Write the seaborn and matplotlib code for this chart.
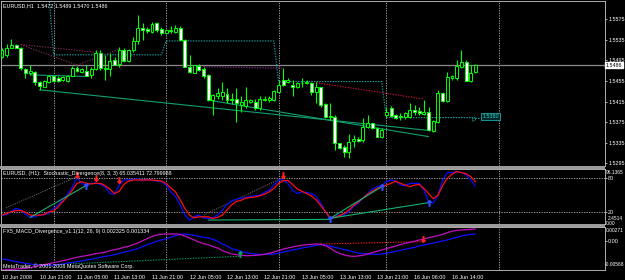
import matplotlib
matplotlib.use("Agg")
import matplotlib.pyplot as plt
from matplotlib.patches import Rectangle
import numpy as np
import pandas as pd
import seaborn as sns

W, H = 625, 280

# ---------------- data ----------------
time_labels = ["10 Jun 2008", "10 Jun 21:00", "11 Jun 05:00", "11 Jun 13:00", "11 Jun 21:00",
               "12 Jun 05:00", "12 Jun 13:00", "12 Jun 21:00", "13 Jun 05:00", "13 Jun 13:00",
               "13 Jun 21:00", "16 Jun 06:00", "16 Jun 14:00"]
time_label_bars = [0, 8, 16, 24, 32, 40, 48, 56, 64, 72, 80, 88, 96]
day_separator_bars = [11, 35, 59, 82, 106]

open_ = [1.5502, 1.5506, 1.5520, 1.5526, 1.5520, 1.5478, 1.5471, 1.5473, 1.5454, 1.5444,
         1.5454, 1.5465, 1.5460, 1.5457, 1.5455, 1.5465, 1.5480, 1.5473, 1.5475, 1.5467,
         1.5478, 1.5510, 1.5481, 1.5478, 1.5495, 1.5488, 1.5515, 1.5494, 1.5515, 1.5532,
         1.5558, 1.5556, 1.5551, 1.5567, 1.5557, 1.5548, 1.5554, 1.5550, 1.5559, 1.5535,
         1.5483, 1.5471, 1.5485, 1.5478, 1.5467, 1.5418, 1.5426, 1.5425, 1.5430, 1.5421,
         1.5421, 1.5408, 1.5406, 1.5415, 1.5415, 1.5402, 1.5421, 1.5419, 1.5418, 1.5434,
         1.5457, 1.5454, 1.5447, 1.5443, 1.5451, 1.5451, 1.5451, 1.5434, 1.5443, 1.5410,
         1.5388, 1.5386, 1.5334, 1.5327, 1.5318, 1.5339, 1.5342, 1.5340, 1.5365, 1.5373,
         1.5363, 1.5347, 1.5389, 1.5402, 1.5389, 1.5388, 1.5386, 1.5386, 1.5399, 1.5397,
         1.5391, 1.5395, 1.5358, 1.5376, 1.5432, 1.5417, 1.5460, 1.5460, 1.5483, 1.5493,
         1.5456, 1.5472]
high = [1.5519, 1.5528, 1.5536, 1.5528, 1.5522, 1.5480, 1.5486, 1.5475, 1.5455, 1.5457,
        1.5467, 1.5467, 1.5464, 1.5464, 1.5467, 1.5484, 1.5484, 1.5480, 1.5486, 1.5483,
        1.5515, 1.5515, 1.5506, 1.5509, 1.5502, 1.5522, 1.5519, 1.5517, 1.5541, 1.5583,
        1.5567, 1.5561, 1.5570, 1.5570, 1.5561, 1.5556, 1.5562, 1.5564, 1.5562, 1.5536,
        1.5506, 1.5487, 1.5489, 1.5483, 1.5469, 1.5430, 1.5441, 1.5454, 1.5441, 1.5431,
        1.5441, 1.5425, 1.5444, 1.5421, 1.5421, 1.5425, 1.5425, 1.5426, 1.5438, 1.5457,
        1.5480, 1.5460, 1.5457, 1.5454, 1.5460, 1.5458, 1.5454, 1.5454, 1.5444, 1.5412,
        1.5412, 1.5389, 1.5335, 1.5331, 1.5353, 1.5350, 1.5347, 1.5383, 1.5389, 1.5374,
        1.5366, 1.5363, 1.5405, 1.5406, 1.5390, 1.5392, 1.5395, 1.5412, 1.5408, 1.5405,
        1.5418, 1.5405, 1.5379, 1.5438, 1.5434, 1.5473, 1.5467, 1.5496, 1.5515, 1.5496,
        1.5486, 1.5489]
low = [1.5499, 1.5502, 1.5519, 1.5519, 1.5477, 1.5460, 1.5467, 1.5447, 1.5438, 1.5443,
       1.5452, 1.5454, 1.5454, 1.5455, 1.5454, 1.5464, 1.5473, 1.5471, 1.5464, 1.5460,
       1.5477, 1.5477, 1.5457, 1.5464, 1.5486, 1.5483, 1.5493, 1.5493, 1.5512, 1.5528,
       1.5535, 1.5548, 1.5548, 1.5551, 1.5545, 1.5547, 1.5548, 1.5548, 1.5534, 1.5482,
       1.5471, 1.5470, 1.5475, 1.5460, 1.5417, 1.5389, 1.5421, 1.5418, 1.5412, 1.5410,
       1.5376, 1.5395, 1.5402, 1.5413, 1.5399, 1.5399, 1.5417, 1.5415, 1.5417, 1.5431,
       1.5445, 1.5451, 1.5425, 1.5441, 1.5443, 1.5449, 1.5428, 1.5412, 1.5405, 1.5384,
       1.5379, 1.5321, 1.5322, 1.5308, 1.5305, 1.5327, 1.5337, 1.5337, 1.5363, 1.5362,
       1.5346, 1.5344, 1.5386, 1.5386, 1.5381, 1.5379, 1.5381, 1.5384, 1.5389, 1.5389,
       1.5389, 1.5358, 1.5356, 1.5374, 1.5415, 1.5415, 1.5457, 1.5458, 1.5480, 1.5455,
       1.5454, 1.5470]
close = [1.5515, 1.5519, 1.5526, 1.5520, 1.5480, 1.5470, 1.5475, 1.5454, 1.5445, 1.5455,
         1.5465, 1.5455, 1.5455, 1.5462, 1.5465, 1.5480, 1.5475, 1.5478, 1.5465, 1.5479,
         1.5509, 1.5480, 1.5478, 1.5494, 1.5487, 1.5515, 1.5494, 1.5515, 1.5533, 1.5559,
         1.5554, 1.5553, 1.5566, 1.5554, 1.5548, 1.5554, 1.5553, 1.5559, 1.5535, 1.5483,
         1.5473, 1.5486, 1.5477, 1.5465, 1.5418, 1.5428, 1.5431, 1.5434, 1.5419, 1.5418,
         1.5412, 1.5415, 1.5418, 1.5419, 1.5402, 1.5421, 1.5419, 1.5423, 1.5436, 1.5447,
         1.5447, 1.5457, 1.5443, 1.5451, 1.5452, 1.5454, 1.5434, 1.5443, 1.5408, 1.5386,
         1.5386, 1.5335, 1.5324, 1.5318, 1.5337, 1.5342, 1.5339, 1.5365, 1.5373, 1.5363,
         1.5347, 1.5360, 1.5395, 1.5388, 1.5383, 1.5386, 1.5392, 1.5399, 1.5395, 1.5392,
         1.5394, 1.5360, 1.5377, 1.5431, 1.5417, 1.5462, 1.5464, 1.5484, 1.5493, 1.5456,
         1.5470, 1.5486]

stoch_main = [14, 15, 21, 26, 23, 15, 10, 11, 14, 15,
              17, 26, 32, 41, 51, 64, 80, 70, 66, 70,
              71, 68, 64, 52, 51, 67, 76, 76, 77, 78,
              76, 77, 76, 74, 73, 67, 55, 47, 32, 14,
              5, 11, 14, 9, 8, 9, 14, 23, 33, 39,
              42, 44, 45, 47, 48, 49, 54, 58, 67, 76,
              76, 70, 58, 52, 55, 54, 52, 47, 35, 20,
              5, 11, 14, 14, 20, 29, 35, 44, 52, 60,
              64, 66, 73, 76, 74, 67, 66, 70, 70, 70,
              58, 38, 35, 49, 76, 89, 89, 91, 89, 85,
              76, 65.04]
stoch_signal = [14, 17, 20, 22, 22, 19, 14, 14, 14, 15,
                20, 21, 29, 38, 47, 58, 70, 73, 70, 69,
                70, 70, 66, 60, 52, 56, 68, 74, 76, 76,
                76, 76, 76, 75, 74, 70, 62, 55, 41, 26,
                14, 9, 11, 11, 11, 8, 10, 14, 23, 32,
                38, 40, 44, 45, 46, 48, 51, 55, 61, 70,
                75, 75, 68, 60, 56, 52, 48, 41, 31, 20,
                9, 10, 13, 17, 23, 31, 37, 44, 51, 56,
                61, 64, 67, 70, 74, 70, 67, 64, 67, 68,
                61, 52, 43, 49, 66, 79, 86, 91, 89, 87,
                82, 72.80]

macd_main = [-0.00567, -0.00561, -0.00554, -0.00548, -0.00541, -0.00535, -0.00522, -0.00502, -0.00483, -0.00463,
             -0.00444, -0.00424, -0.00405, -0.00385, -0.00366, -0.00340, -0.00320, -0.00301, -0.00288, -0.00268,
             -0.00249, -0.00236, -0.00223, -0.00190, -0.00171, -0.00151, -0.00125, -0.00106, -0.00073, -0.00041,
             0.00005, 0.00044, 0.00089, 0.00115, 0.00128, 0.00135, 0.00135, 0.00135, 0.00128, 0.00096,
             0.00057, 0.00018, -0.00021, -0.00054, -0.00073, -0.00112, -0.00138, -0.00190, -0.00223, -0.00255,
             -0.00268, -0.00281, -0.00288, -0.00288, -0.00281, -0.00275, -0.00262, -0.00242, -0.00216, -0.00190,
             -0.00158, -0.00138, -0.00119, -0.00099, -0.00086, -0.00073, -0.00067, -0.00060, -0.00067, -0.00093,
             -0.00138, -0.00203, -0.00242, -0.00275, -0.00294, -0.00301, -0.00294, -0.00281, -0.00255, -0.00229,
             -0.00203, -0.00177, -0.00151, -0.00125, -0.00099, -0.00073, -0.00047, -0.00028, -0.00008, 0.00018,
             0.00037, 0.00063, 0.00083, 0.00102, 0.00128, 0.00161, 0.00187, 0.00206, 0.00213, 0.00219,
             0.00226, 0.002325]
macd_signal = [-0.00353, -0.00366, -0.00385, -0.00405, -0.00418, -0.00437, -0.00450, -0.00463, -0.00470, -0.00476,
               -0.00476, -0.00470, -0.00463, -0.00450, -0.00431, -0.00418, -0.00405, -0.00392, -0.00372, -0.00359,
               -0.00340, -0.00320, -0.00301, -0.00288, -0.00268, -0.00242, -0.00223, -0.00197, -0.00177, -0.00145,
               -0.00112, -0.00073, -0.00041, -0.00008, 0.00018, 0.00044, 0.00070, 0.00102, 0.00128, 0.00135,
               0.00122, 0.00109, 0.00089, 0.00070, 0.00057, 0.00031, -0.00008, -0.00060, -0.00099, -0.00151,
               -0.00177, -0.00203, -0.00229, -0.00242, -0.00255, -0.00262, -0.00262, -0.00262, -0.00255, -0.00242,
               -0.00216, -0.00197, -0.00177, -0.00158, -0.00138, -0.00125, -0.00106, -0.00086, -0.00073, -0.00080,
               -0.00099, -0.00125, -0.00145, -0.00171, -0.00190, -0.00216, -0.00236, -0.00249, -0.00255, -0.00262,
               -0.00262, -0.00255, -0.00242, -0.00223, -0.00203, -0.00184, -0.00164, -0.00145, -0.00125, -0.00099,
               -0.00080, -0.00060, -0.00041, -0.00021, -0.00002, 0.00018, 0.00044, 0.00070, 0.00096, 0.00115,
               0.00128, 0.001334]

pivot_levels = [1.5625, 1.5506, 1.5533, 1.5454, 1.5384]
pivot_day_start = [0, 11, 35, 59, 82]
pivot_label = "1.5380"
price_ticks = [1.5295, 1.5335, 1.5375, 1.5415, 1.5455, 1.5495, 1.5535, 1.5575]
last_price = 1.5486

# ---------------- style ----------------
sns.set_theme(style="dark", rc={"axes.facecolor": "black", "figure.facecolor": "black",
                                "savefig.facecolor": "black", "axes.grid": False})
plt.rcParams["font.family"] = ["Liberation Sans", "DejaVu Sans"]
FS = 3.9
FS_R = 3.5
GREEN = "#00ff00"
SEP = "#b4b4b4"
TXT = "white"

fig = plt.figure(figsize=(6.25, 2.8), dpi=100)


def px_rect(x0, y0, x1, y1):
    return [x0 / W, 1 - y1 / H, (x1 - x0) / W, (y1 - y0) / H]


def fx(x):
    return x / W


def fy(y):
    return 1 - y / H


ax_p = fig.add_axes(px_rect(1, 1, 605, 166))
ax_s = fig.add_axes(px_rect(1, 169, 605, 224))
ax_m = fig.add_axes(px_rect(1, 227, 605, 270))

# panel separators
for y0 in (166, 224):
    fig.patches.append(Rectangle((0, fy(y0 + 3)), fx(605), 3 / H, transform=fig.transFigure,
                                 facecolor="#9a9a9a", edgecolor="none", zorder=0))

n = len(close)
bars = np.arange(n)
XL = ((1 - 2) / 4.6875, (605 - 2) / 4.6875)

for ax in (ax_p, ax_s, ax_m):
    ax.set_facecolor("black")
    ax.set_xlim(*XL)
    for sp in ax.spines.values():
        sp.set_color("#c8c8c8")
        sp.set_linewidth(0.6)
    for b in day_separator_bars:
        ax.axvline(b, color=SEP, lw=0.6, ls=(0, (1.5, 1.5)), zorder=1)

# ---------------- price panel ----------------
ax_p.set_ylim(1.528987, 1.561063)
ax_p.axhline(last_price, color="#8a8a8a", lw=0.9, zorder=1)

# pivot step line
pivot_series = np.empty(n)
for k, start in enumerate(pivot_day_start):
    pivot_series[start:] = pivot_levels[k]
piv_col = "#16a6a6"
ax_p.plot(bars, pivot_series, color=piv_col, lw=0.8, ls=(0, (1.2, 1.2)), zorder=2)
ax_p.plot([bars[-1], 102.3], [pivot_levels[-1]] * 2, color=piv_col, lw=0.8, ls=(0, (1.2, 1.2)), zorder=2)

# divergence / trend lines
tl = "#12a070"
ax_p.plot([8, 91], [1.5438, 1.5359], color=tl, lw=0.8, zorder=2)
ax_p.plot([44, 91], [1.5418, 1.5347], color=tl, lw=0.8, zorder=2)
ax_p.plot([6, 17.7], [1.5467, 1.5464], color=tl, lw=0.8, zorder=2)
dd = "#7a2c52"
ax_p.plot([4, 20], [1.5526, 1.5511], color=dd, lw=0.8, ls=(0, (1.2, 1.2)), zorder=2)
ax_p.plot([4, 16], [1.5526, 1.5486], color=dd, lw=0.8, ls=(0, (1.2, 1.2)), zorder=2)
ax_p.plot([16, 25], [1.5486, 1.5517], color=dd, lw=0.8, ls=(0, (1.2, 1.2)), zorder=2)
ax_p.plot([43, 60], [1.5483, 1.5480], color="#8a2a8a", lw=0.8, ls=(0, (1.2, 1.2)), zorder=2)
ax_p.plot([67, 90], [1.5452, 1.5420], color="#c81040", lw=0.8, ls=(0, (1.2, 1.2)), zorder=2)

# candles
o = np.array(open_); c = np.array(close); h = np.array(high); l = np.array(low)
ax_p.vlines(bars, l, h, color=GREEN, lw=0.8, zorder=3)
bull = c >= o
body_bot = np.minimum(o, c)
body_h = np.maximum(np.abs(c - o), 0.00004)
ax_p.bar(bars[bull], body_h[bull], bottom=body_bot[bull], width=0.62, color="black",
         edgecolor=GREEN, linewidth=0.7, zorder=4)
ax_p.bar(bars[~bull], body_h[~bull], bottom=body_bot[~bull], width=0.62, color="white",
         edgecolor=GREEN, linewidth=0.7, zorder=4)

ax_p.yaxis.tick_right()
ax_p.set_yticks(price_ticks)
ax_p.set_yticklabels([f"{v:.4f}" for v in price_ticks])
ax_p.tick_params(axis="y", length=1.5, width=0.6, color="#c8c8c8", labelsize=FS, labelcolor=TXT, pad=0.8)
ax_p.set_xticks([])

# ---------------- stochastic panel ----------------
ax_s.set_ylim(-1.7, 95.35)
for lev in (80, 20):
    ax_s.axhline(lev, color=SEP, lw=0.6, ls=(0, (1.5, 1.5)), zorder=1)
df_s = pd.DataFrame({"bar": bars, "main": stoch_main, "signal": stoch_signal})
sns.lineplot(data=df_s, x="bar", y="main", ax=ax_s, color="#0a0aff", lw=0.9, legend=False, zorder=3)
sns.lineplot(data=df_s, x="bar", y="signal", ax=ax_s, color="#ff1010", lw=0.9, legend=False, zorder=4)
sg = "#18b070"
ax_s.plot([6, 17.9], [10, 66], color=sg, lw=0.8, zorder=5)
ax_s.plot([44, 70], [5.3, 6.5], color=sg, lw=0.8, zorder=5)
ax_s.plot([70, 81], [8.3, 64], color=sg, lw=0.8, zorder=5)
ax_s.plot([70, 91], [8.3, 36], color=sg, lw=0.8, zorder=5)
ax_s.plot([0.9, 16], [27, 82], color="#6a6a6a", lw=0.7, ls=(0, (1.2, 1.2)), zorder=2)
ax_s.plot([43, 59.6], [14, 79], color="#6a6a6a", lw=0.7, ls=(0, (1.2, 1.2)), zorder=2)
down_x = [16, 20, 25, 60]
down_y = [84, 80, 76, 84]
up_x = [17.9, 70, 81, 91]
up_y = [66, 7, 64, 36]
ax_s.plot(down_x, down_y, ls="none", marker="$\u2193$", ms=4, color="#ff2020", zorder=6)
ax_s.plot(up_x, up_y, ls="none", marker="$\u2191$", ms=4, color="#3050ff", zorder=6)
ax_s.set_xlabel(""); ax_s.set_ylabel("")
ax_s.yaxis.tick_right()
ax_s.set_yticks([80, 20])
ax_s.set_yticklabels(["80", "20"])
ax_s.tick_params(axis="y", length=1.5, width=0.6, color="#c8c8c8", labelsize=FS, labelcolor=TXT, pad=0.8)
ax_s.set_xticks([])

# ---------------- MACD panel ----------------
ax_m.set_ylim(-0.005673, 0.002712)
df_m = pd.DataFrame({"bar": bars, "macd": macd_main, "signal": macd_signal})
sns.lineplot(data=df_m, x="bar", y="signal", ax=ax_m, color="#1010ff", lw=0.9, legend=False, zorder=3)
sns.lineplot(data=df_m, x="bar", y="macd", ax=ax_m, color="#c010c0", lw=0.9, legend=False, zorder=4)
ax_m.plot([14, 50.7], [-0.0045, -0.0030], color="#00a060", lw=0.8, ls=(0, (1.2, 1.2)), zorder=2)
ax_m.plot([68, 89.8], [-0.0006, -0.00015], color="#ff1010", lw=0.8, ls=(0, (1.2, 1.2)), zorder=2)
ax_m.plot([89.8], [0.00045], ls="none", marker="$\u2193$", ms=4, color="#ff2020", zorder=6)
ax_m.plot([50.7], [-0.0026], ls="none", marker="$\u2191$", ms=4, color="#00a060", zorder=6)
ax_m.set_xlabel(""); ax_m.set_ylabel("")
ax_m.yaxis.tick_right()
ax_m.set_yticks([0.0])
ax_m.set_yticklabels(["0.00"])
ax_m.tick_params(axis="y", length=1.5, width=0.6, color="#c8c8c8", labelsize=FS, labelcolor=TXT, pad=0.8)
ax_m.set_xticks(time_label_bars)
ax_m.set_xticklabels(time_labels)
ax_m.tick_params(axis="x", length=2.5, width=0.6, color="#c8c8c8", labelsize=FS, labelcolor=TXT, pad=1)
for t in ax_m.get_xticklabels():
    t.set_ha("left")

# ---------------- texts ----------------
fig.text(fx(3), fy(5.5), "EURUSD,H1  1.5472 1.5489 1.5470 1.5486", color=TXT, fontsize=FS, va="center")
fig.text(fx(3), fy(173.5), "EURUSD, (H1):  Stochastic_Divergence(8, 3, 3) 65.035411 72.799988",
         color=TXT, fontsize=FS, va="center")
fig.text(fx(3), fy(231), "FX5_MACD_Divergence_v1.1(12, 26, 9) 0.002325 0.001334",
         color=TXT, fontsize=FS, va="center")
fig.text(fx(3), fy(265.7), "MetaTrader, \u00a9 2001-2008 MetaQuotes Software Corp.",
         color=TXT, fontsize=FS, va="center")

fig.text(fx(606), fy(65), f"{last_price:.4f}", color="black", fontsize=FS, va="center",
         bbox=dict(boxstyle="square,pad=0.15", fc="white", ec="white"))
fig.text(fx(482.5), fy(116.5), pivot_label, color="#30d0d0", fontsize=FS, va="center",
         bbox=dict(boxstyle="square,pad=0.2", fc="#002828", ec="#20a8a8", lw=0.6))
fig.text(fx(471.5), fy(120.5), "P", color="#20a8a8", fontsize=4.5, va="center")

# right-hand scale labels of the indicator windows (narrow space, as in MT4)
fig.text(fx(606), fy(172), "96.1365", color=TXT, fontsize=FS_R, va="center")
fig.text(fx(608), fy(218.3), "2.4514", color=TXT, fontsize=FS_R, va="center")
fig.text(fx(606), fy(223.3), "0.00", color=TXT, fontsize=FS_R, va="center")
fig.text(fx(605.5), fy(230.5), "0.00271", color=TXT, fontsize=FS_R, va="center")
fig.text(fx(604.6), fy(265), "-0.00568", color=TXT, fontsize=FS_R, va="center")

fig.savefig("out.png", dpi=100, facecolor="black")
